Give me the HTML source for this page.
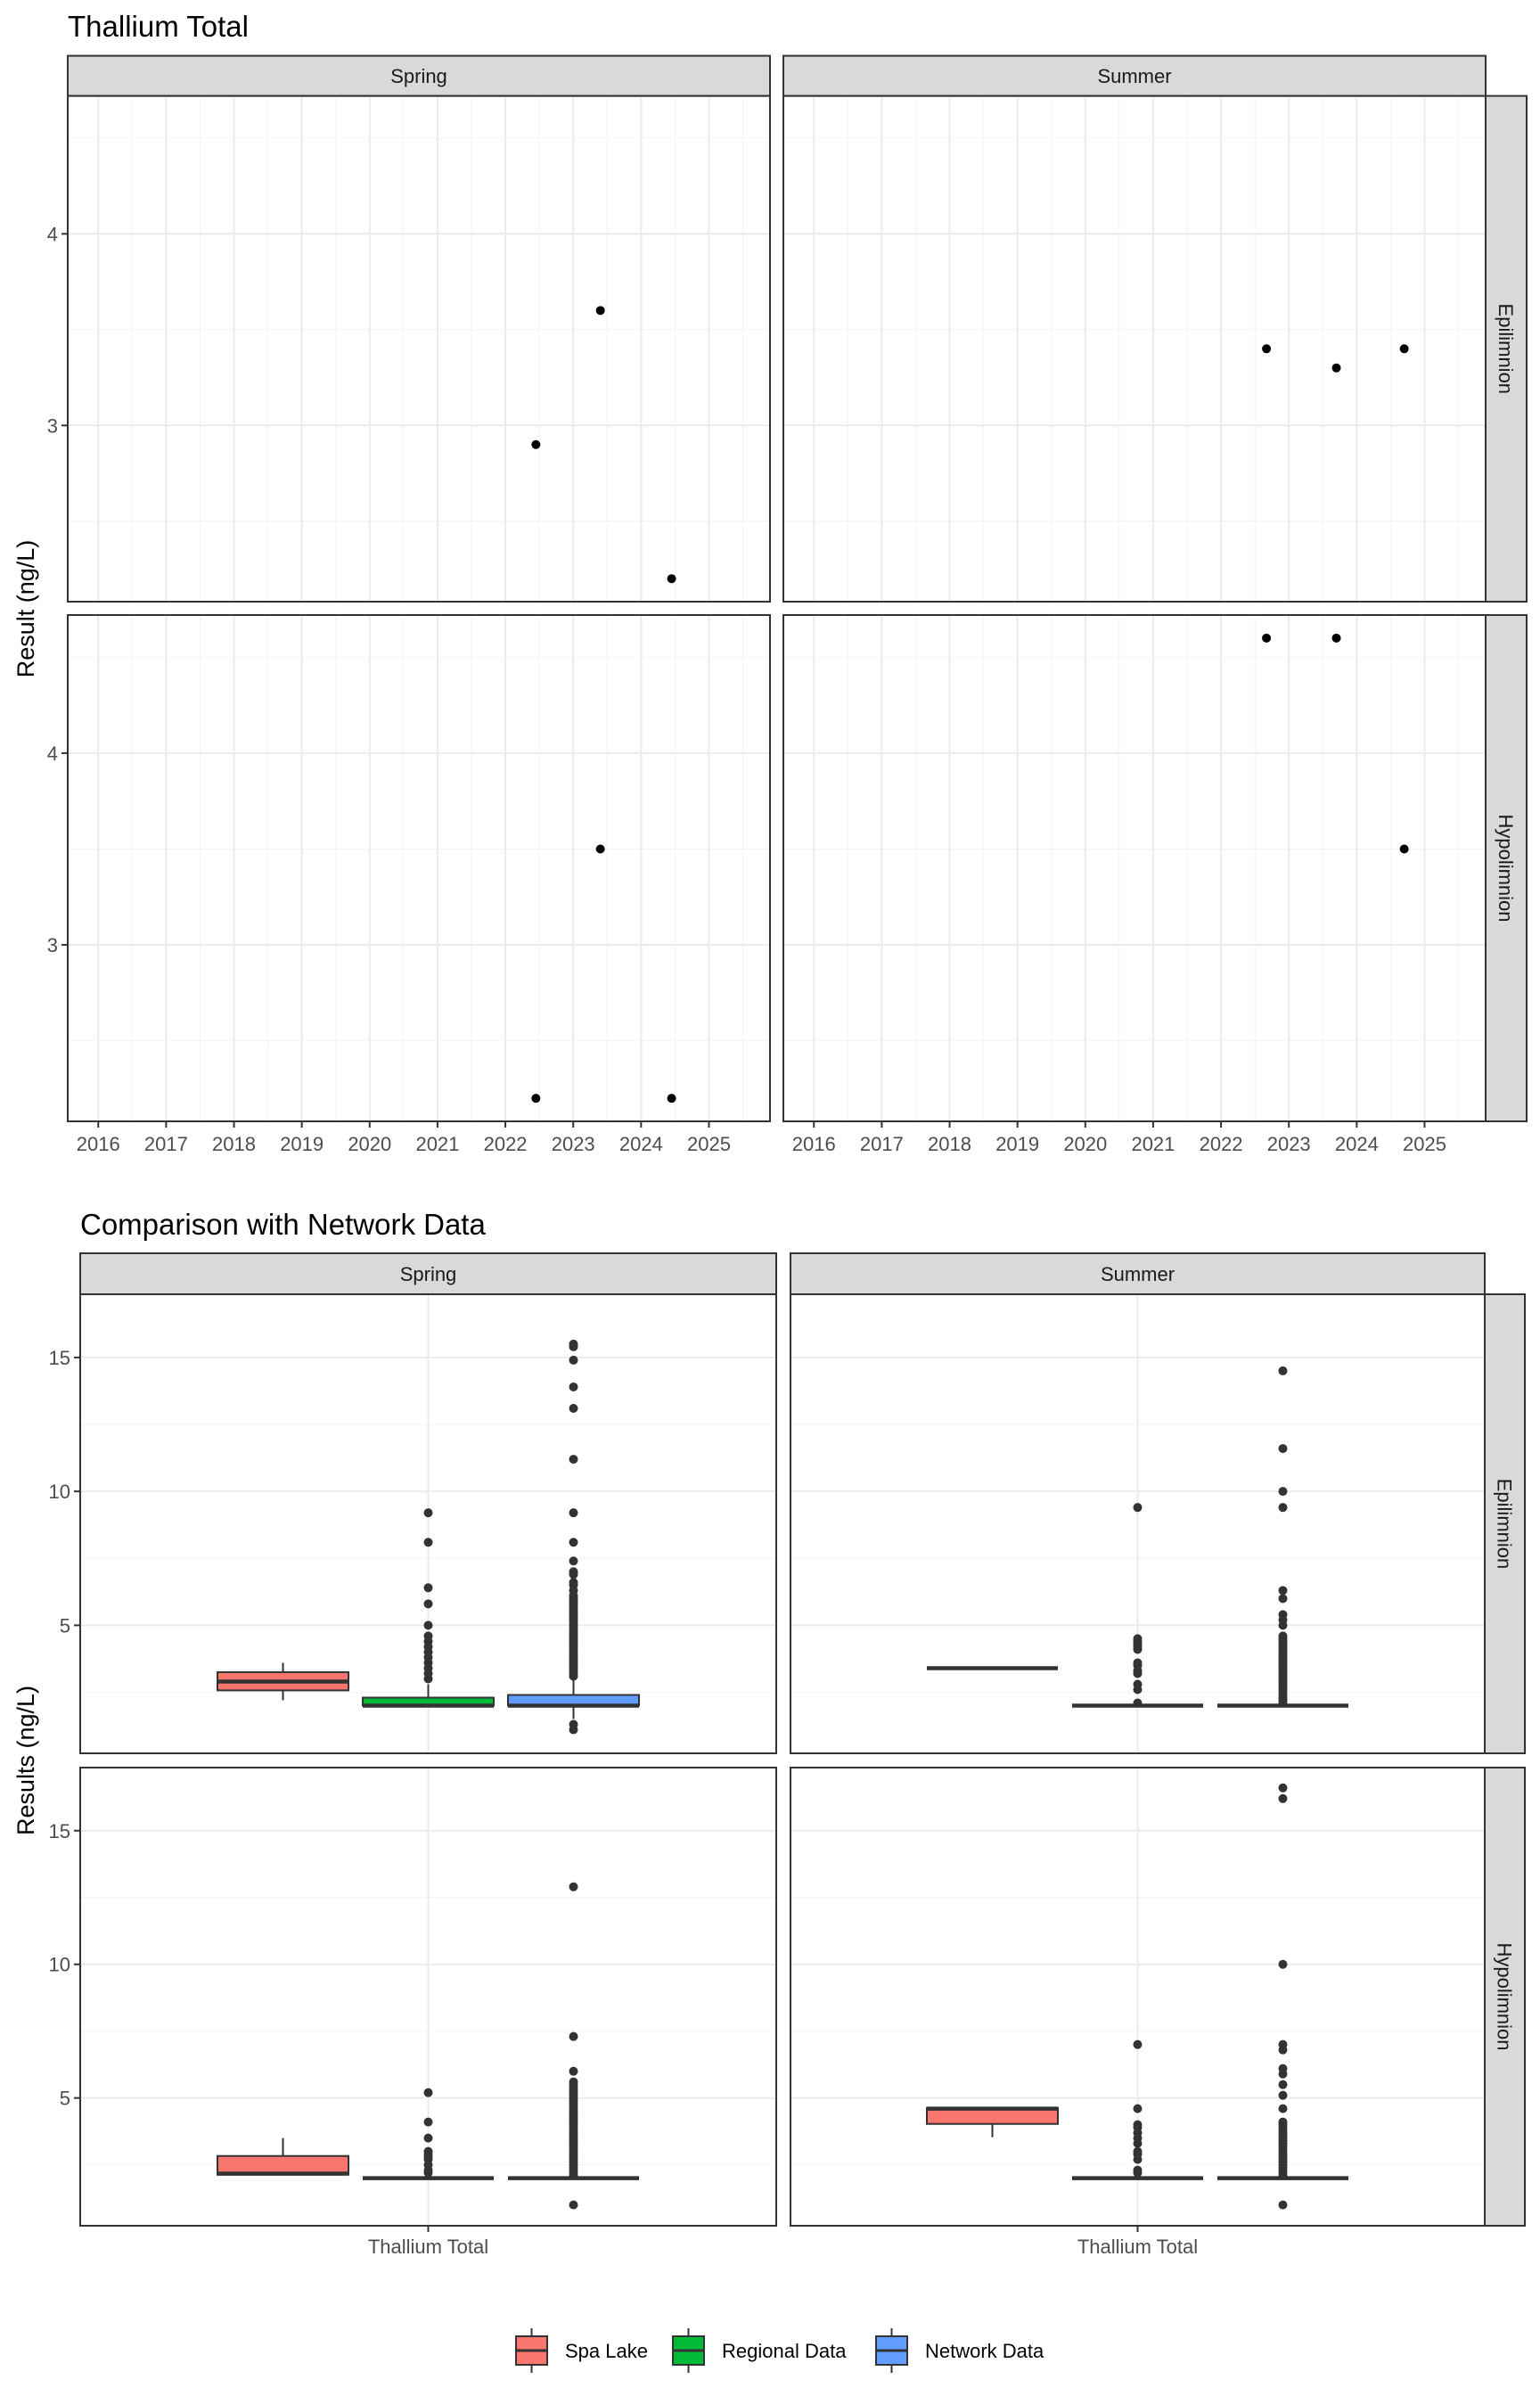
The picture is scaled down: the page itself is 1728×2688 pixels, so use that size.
<!DOCTYPE html>
<html><head><meta charset="utf-8"><style>
html,body{margin:0;padding:0;background:#fff}
svg{display:block;font-family:"Liberation Sans",Arial,sans-serif}
</style></head><body>
<svg id="chart" width="1728" height="2688" viewBox="0 0 1728 2688" xmlns="http://www.w3.org/2000/svg">
<rect width="1728" height="2688" fill="#fff"/>
<text x="76" y="41" font-size="33" fill="#000">Thallium Total</text>
<text x="90" y="1385" font-size="33" fill="#000">Comparison with Network Data</text>
<text transform="translate(38,683) rotate(-90)" text-anchor="middle" font-size="27" fill="#000">Result (ng/L)</text>
<text transform="translate(38,1975) rotate(-90)" text-anchor="middle" font-size="27" fill="#000">Results (ng/L)</text>
<g id="top"></g>
<g id="bottom"></g>
<g id="legend"></g>
</svg>
<script>
// ---------- data: time series ----------
const seasons = ["Spring", "Summer"];
const layers = ["Epilimnion", "Hypolimnion"];
const xTickYears = [2016, 2017, 2018, 2019, 2020, 2021, 2022, 2023, 2024, 2025];
const yTicksTop = [3, 4];
const springEpiYears = [2022.45, 2023.4, 2024.45];
const springEpiValues = [2.9, 3.6, 2.2];
const springHypoYears = [2022.45, 2023.4, 2024.45];
const springHypoValues = [2.2, 3.5, 2.2];
const summerEpiYears = [2022.67, 2023.7, 2024.7];
const summerEpiValues = [3.4, 3.3, 3.4];
const summerHypoYears = [2022.67, 2023.7, 2024.7];
const summerHypoValues = [4.6, 4.6, 3.5];

// ---------- data: box plots ----------
const groups = ["Spa Lake", "Regional Data", "Network Data"];
const yTicksBottom = [5, 10, 15];
const xCategory = ["Thallium Total"];
// stats: [lowerWhisker, q1, median, q3, upperWhisker]
const springEpiStats = [[2.2, 2.57, 2.9, 3.25, 3.6], [2.0, 2.0, 2.0, 2.3, 2.8], [1.5, 2.0, 2.0, 2.4, 3.0]];
const summerEpiStats = [[3.4, 3.4, 3.4, 3.4, 3.4], [2.0, 2.0, 2.0, 2.0, 2.0], [2.0, 2.0, 2.0, 2.0, 2.0]];
const springHypoStats = [[2.13, 2.13, 2.17, 2.83, 3.5], [2.0, 2.0, 2.0, 2.0, 2.0], [2.0, 2.0, 2.0, 2.0, 2.0]];
const summerHypoStats = [[3.53, 4.03, 4.6, 4.63, 4.63], [2.0, 2.0, 2.0, 2.0, 2.0], [2.0, 2.0, 2.0, 2.0, 2.0]];
const springEpiOutliers = [[], [9.2, 8.1, 6.4, 5.8, 5.0, 4.6, 4.4, 4.2, 4.0, 3.8, 3.6, 3.4, 3.2, 3.0],
  [15.5, 15.4, 14.9, 13.9, 13.1, 11.2, 9.2, 8.1, 7.4, 7.0, 6.9, 6.6, 6.5, 6.3, 6.1, 6.0, 5.9, 5.8, 5.7, 5.6, 5.5, 5.4, 5.3, 5.2, 5.1, 5.0, 4.9, 4.8, 4.7, 4.6, 4.5, 4.4, 4.3, 4.2, 4.1, 4.0, 3.9, 3.8, 3.7, 3.6, 3.5, 3.4, 3.3, 3.2, 3.1, 1.3, 1.1]];
const summerEpiOutliers = [[], [9.4, 4.5, 4.4, 4.3, 4.2, 4.1, 3.6, 3.5, 3.3, 3.2, 2.8, 2.6, 2.1],
  [14.5, 11.6, 10.0, 9.4, 6.3, 6.0, 5.4, 5.2, 5.0, 4.6, 4.5, 4.4, 4.3, 4.2, 4.1, 4.0, 3.9, 3.8, 3.7, 3.6, 3.5, 3.4, 3.3, 3.2, 3.1, 3.0, 2.9, 2.8, 2.7, 2.6, 2.5, 2.4, 2.3, 2.2, 2.1]];
const springHypoOutliers = [[], [5.2, 4.1, 3.5, 3.0, 2.9, 2.8, 2.7, 2.5, 2.3, 2.2],
  [12.9, 7.3, 6.0, 5.6, 5.5, 5.4, 5.3, 5.2, 5.1, 5.0, 4.9, 4.8, 4.7, 4.6, 4.5, 4.4, 4.3, 4.2, 4.1, 4.0, 3.9, 3.8, 3.7, 3.6, 3.5, 3.4, 3.3, 3.2, 3.1, 3.0, 2.9, 2.8, 2.7, 2.6, 2.5, 2.4, 2.3, 2.2, 2.1, 1.0]];
const summerHypoOutliers = [[], [7.0, 4.6, 4.0, 3.9, 3.7, 3.5, 3.3, 3.0, 2.9, 2.7, 2.3, 2.2],
  [16.6, 16.2, 10.0, 7.0, 6.8, 6.1, 5.9, 5.5, 5.1, 4.6, 4.1, 4.0, 3.9, 3.8, 3.7, 3.6, 3.5, 3.4, 3.3, 3.2, 3.1, 3.0, 2.9, 2.8, 2.7, 2.6, 2.5, 2.4, 2.3, 2.2, 2.1, 1.0]];
const groupColors = ["#F8766D", "#00BA38", "#619CFF"];

const NS = "http://www.w3.org/2000/svg";
function mk(parent, tag, attrs) {
  const e = document.createElementNS(NS, tag);
  for (const k in attrs) e.setAttribute(k, attrs[k]);
  parent.appendChild(e);
  return e;
}
function lin(d0, d1, r0, r1) { return v => r0 + (v - d0) / (d1 - d0) * (r1 - r0); }

function strip(g, x, y, w, h, label, vertical) {
  const r = mk(g, "rect", {x: x, y: y, width: w, height: h, fill: "#d9d9d9", stroke: "#333", "stroke-width": 2});
  
  
  let t;
  if (vertical) {
    t = mk(g, "text", {transform: "translate(" + (x + w / 2 - 8) + "," + (y + h / 2) + ") rotate(90)", "text-anchor": "middle", "font-size": 22, fill: "#1a1a1a"});
  } else {
    t = mk(g, "text", {x: x + w / 2, y: y + h / 2 + 8, "text-anchor": "middle", "font-size": 22, fill: "#1a1a1a"});
  }
  t.textContent = label;
  
  
}

// ---------- top chart ----------
(function () {
  const g = document.getElementById("top");
  const cols = [[76, 864], [879, 1667]];
  const rows = [[107.6, 675], [690, 1258]];
  const xd = [2015.55, 2025.9], yd = [2.08, 4.72];
  const data = [[[springEpiYears, springEpiValues], [springHypoYears, springHypoValues]],
                [[summerEpiYears, summerEpiValues], [summerHypoYears, summerHypoValues]]];
  cols.forEach((c, ci) => {
    strip(g, c[0], 62.6, c[1] - c[0], 45, seasons[ci], false);
    const xs = lin(xd[0], xd[1], c[0], c[1]);
    rows.forEach((r, ri) => {
      const ys = lin(yd[0], yd[1], r[1], r[0]);
      const pg = mk(g, "g", {});
      
      
      // minor grid
      for (let i = 0; i < xTickYears.length + 1; i++) {
        const yv = xTickYears[0] - 0.5 + i;
        if (yv > xd[0] && yv < xd[1]) mk(pg, "line", {x1: xs(yv), x2: xs(yv), y1: r[0], y2: r[1], stroke: "#f4f4f4", "stroke-width": 1});
      }
      [2.5, 3.5, 4.5].forEach(v => mk(pg, "line", {x1: c[0], x2: c[1], y1: ys(v), y2: ys(v), stroke: "#f4f4f4", "stroke-width": 1}));
      xTickYears.forEach(v => mk(pg, "line", {x1: xs(v), x2: xs(v), y1: r[0], y2: r[1], stroke: "#ebebeb", "stroke-width": 2}));
      yTicksTop.forEach(v => mk(pg, "line", {x1: c[0], x2: c[1], y1: ys(v), y2: ys(v), stroke: "#ebebeb", "stroke-width": 2}));
      const d = data[ci][ri];
      d[0].forEach((yr, i) => {
        const p = mk(pg, "circle", {cx: xs(yr), cy: ys(d[1][i]), r: 5, fill: "#000"});
        
        
      });
      mk(pg, "rect", {x: c[0], y: r[0], width: c[1] - c[0], height: r[1] - r[0], fill: "none", stroke: "#333", "stroke-width": 2});
      if (ci === 0) {
        yTicksTop.forEach(v => {
          mk(g, "line", {x1: c[0] - 7, x2: c[0], y1: ys(v), y2: ys(v), stroke: "#333", "stroke-width": 2});
          const t = mk(g, "text", {x: c[0] - 11, y: ys(v) + 8, "text-anchor": "end", "font-size": 22, fill: "#4d4d4d"});
          t.textContent = v;
          
          
        });
      }
      if (ci === 1) strip(g, 1667, r[0], 46, r[1] - r[0], layers[ri], true);
      if (ri === 1) {
        xTickYears.forEach(v => {
          mk(g, "line", {x1: xs(v), x2: xs(v), y1: r[1], y2: r[1] + 7, stroke: "#333", "stroke-width": 2});
          const t = mk(g, "text", {x: xs(v), y: r[1] + 33, "text-anchor": "middle", "font-size": 22, fill: "#4d4d4d"});
          t.textContent = v;
          
          
        });
      }
    });
  });
})();

// ---------- bottom chart ----------
(function () {
  const g = document.getElementById("bottom");
  const cols = [[90, 871], [887, 1666]];
  const rows = [[1452, 1967], [1983, 2497]];
  const yd = [0.22, 17.36];
  const stats = [[springEpiStats, springHypoStats], [summerEpiStats, summerHypoStats]];
  const outs = [[springEpiOutliers, springHypoOutliers], [summerEpiOutliers, summerHypoOutliers]];
  const boxW = 147, dodge = 163;
  cols.forEach((c, ci) => {
    strip(g, c[0], 1406, c[1] - c[0], 46, seasons[ci], false);
    const cx = (c[0] + c[1]) / 2;
    rows.forEach((r, ri) => {
      const ys = lin(yd[0], yd[1], r[1], r[0]);
      const pg = mk(g, "g", {});
      
      
      [2.5, 7.5, 12.5].forEach(v => mk(pg, "line", {x1: c[0], x2: c[1], y1: ys(v), y2: ys(v), stroke: "#f4f4f4", "stroke-width": 1}));
      yTicksBottom.forEach(v => mk(pg, "line", {x1: c[0], x2: c[1], y1: ys(v), y2: ys(v), stroke: "#ebebeb", "stroke-width": 2}));
      mk(pg, "line", {x1: cx, x2: cx, y1: r[0], y2: r[1], stroke: "#ebebeb", "stroke-width": 2});
      groups.forEach((gn, gi) => {
        const s = stats[ci][ri][gi];
        const bx = cx + (gi - 1) * dodge;
        const bg = mk(pg, "g", {});
        
        
        mk(bg, "line", {x1: bx, x2: bx, y1: ys(s[0]), y2: ys(s[1]), stroke: "#333", "stroke-width": 2});
        mk(bg, "line", {x1: bx, x2: bx, y1: ys(s[3]), y2: ys(s[4]), stroke: "#333", "stroke-width": 2});
        mk(bg, "rect", {x: bx - boxW / 2, y: ys(s[3]), width: boxW, height: Math.max(0, ys(s[1]) - ys(s[3])), fill: groupColors[gi], stroke: "#333", "stroke-width": 2});
        mk(bg, "line", {x1: bx - boxW / 2, x2: bx + boxW / 2, y1: ys(s[2]), y2: ys(s[2]), stroke: "#333", "stroke-width": 4.5});
        outs[ci][ri][gi].forEach(v => {
          const p = mk(bg, "circle", {cx: bx, cy: ys(v), r: 5, fill: "#333"});
          
          
        });
      });
      mk(pg, "rect", {x: c[0], y: r[0], width: c[1] - c[0], height: r[1] - r[0], fill: "none", stroke: "#333", "stroke-width": 2});
      if (ci === 0) {
        yTicksBottom.forEach(v => {
          mk(g, "line", {x1: c[0] - 7, x2: c[0], y1: ys(v), y2: ys(v), stroke: "#333", "stroke-width": 2});
          const t = mk(g, "text", {x: c[0] - 11, y: ys(v) + 8, "text-anchor": "end", "font-size": 22, fill: "#4d4d4d"});
          t.textContent = v;
          
          
        });
      }
      if (ci === 1) strip(g, 1666, r[0], 45, r[1] - r[0], layers[ri], true);
      if (ri === 1) {
        mk(g, "line", {x1: cx, x2: cx, y1: r[1], y2: r[1] + 7, stroke: "#333", "stroke-width": 2});
        const t = mk(g, "text", {x: cx, y: r[1] + 31, "text-anchor": "middle", "font-size": 22, fill: "#4d4d4d"});
        t.textContent = xCategory[0];
        
        
      }
    });
  });
})();

// ---------- legend ----------
(function () {
  const g = document.getElementById("legend");
  const keyX = [579, 755, 983];
  const cy = 2637;
  groups.forEach((gn, i) => {
    const eg = mk(g, "g", {});
    
    
    const kx = keyX[i] + 17.5;
    mk(eg, "line", {x1: kx, x2: kx, y1: cy - 25, y2: cy + 25, stroke: "#333", "stroke-width": 2});
    mk(eg, "rect", {x: keyX[i], y: cy - 16, width: 35, height: 32, fill: groupColors[i], stroke: "#333", "stroke-width": 2});
    mk(eg, "line", {x1: keyX[i], x2: keyX[i] + 35, y1: cy, y2: cy, stroke: "#333", "stroke-width": 3});
    const t = mk(eg, "text", {x: keyX[i] + 55, y: cy + 8, "font-size": 22, fill: "#000"});
    t.textContent = gn;
  });
})();
</script>
</body></html>
